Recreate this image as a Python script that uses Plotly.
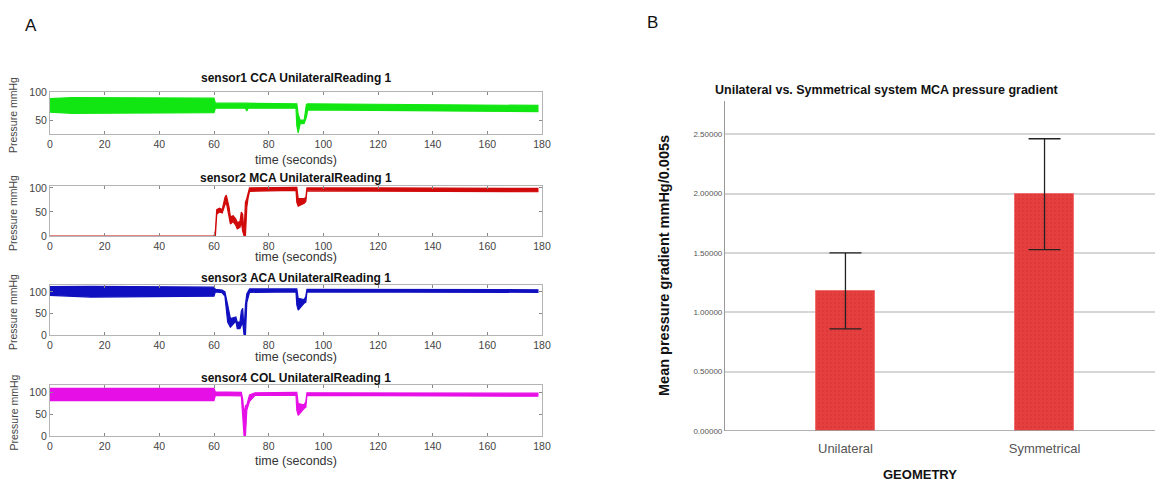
import plotly.graph_objects as go

W, H = 1163, 484
OFF = 8   # the page's default body margin shifts the figure by 8px right and down

# ---------------- Panel A data (signal envelopes) -------------
s1_t  = [0, 8, 60, 60.5, 71.5, 72, 72.5, 90, 90.3, 90.8, 91.5, 93, 93.8, 94.3, 120, 150, 178.5]
s1_hi = [88, 90, 89, 80, 80, 80, 80, 79, 79, 60, 50, 50, 78, 79, 78, 77, 76]
s1_lo = [64, 62, 63, 71, 71, 66, 71, 71, 40, 27, 43, 44, 55, 68, 67, 66, 65]

s2_t  = [0, 60, 60.5, 61, 62, 63, 64, 64.5, 65.5, 66, 67, 68, 68.5, 69.5, 70, 70.5, 71, 71.5, 72, 72.5, 73, 90, 90.3, 90.8, 93, 93.6, 94, 120, 178.5]
s2_hi = [0, 0, 10, 55, 58, 55, 80, 85, 60, 40, 42, 35, 28, 30, 50, 45, 5, 70, 78, 92, 100, 101, 101, 78, 78, 80, 100, 100, 99]
s2_lo = [0, 0, 0, 45, 50, 48, 65, 70, 40, 25, 30, 22, 15, 18, 30, 10, 0, 0, 60, 80, 93, 95, 70, 62, 68, 72, 94, 94, 92]

s3_t  = [0, 15, 60, 60.5, 63, 64, 65, 66, 67, 68, 68.5, 69.5, 70, 70.5, 71, 71.5, 72, 73, 90, 90.3, 90.8, 93, 93.6, 94, 178.5]
s3_hi = [112, 113, 111, 106, 104, 100, 70, 38, 40, 42, 30, 30, 55, 62, 10, 70, 95, 107, 107, 107, 85, 82, 90, 106, 105]
s3_lo = [92, 88, 90, 100, 98, 90, 30, 18, 25, 32, 15, 15, 22, 30, 0, 0, 75, 99, 100, 70, 58, 74, 76, 100, 99]

s4_t  = [0, 60, 60.5, 70, 70.5, 71, 71.5, 72, 73, 75, 90, 90.3, 90.8, 93, 93.6, 94, 178.5]
s4_hi = [110, 110, 102, 101, 85, 50, 70, 72, 95, 100, 101, 101, 75, 72, 80, 100, 99]
s4_lo = [82, 82, 94, 93, 60, 0, 0, 60, 80, 94, 94, 60, 48, 64, 66, 94, 92]

sensor_titles = ["sensor1 CCA UnilateralReading 1", "sensor2 MCA UnilateralReading 1",
                 "sensor3 ACA UnilateralReading 1", "sensor4 COL UnilateralReading 1"]
sensor_colors = ["#12e612", "#d00a0a", "#1010c0", "#e610e6"]
time_ticks = [0, 20, 40, 60, 80, 100, 120, 140, 160, 180]

# ---------------- Panel B data ----------------
geometry = ["Unilateral", "Symmetrical"]
mean_grad = [1.18, 1.995]
err_grad = [0.32, 0.467]
b_ticks = [0, 0.5, 1.0, 1.5, 2.0, 2.5]

# ---------------- layout helpers (window pixel -> paper fraction) ----------------
def px(x):
    return (x - OFF) / W

def py(y):
    return 1 - (y - OFF) / H

def note(x, y, text, size, color="#111", angle=0, xanchor="center", family="Liberation Sans, Arial"):
    return dict(x=px(x), y=py(y), xref="paper", yref="paper", xanchor=xanchor, yanchor="middle",
                text=text, textangle=angle, showarrow=False,
                font=dict(family=family, size=size, color=color))

fig = go.Figure()

series = [(s1_t, s1_hi, s1_lo), (s2_t, s2_hi, s2_lo), (s3_t, s3_hi, s3_lo), (s4_t, s4_hi, s4_lo)]
boxes = [(92, 134), (186, 236), (285, 335), (385, 436)]
yranges = [[25, 100], [0, 104], [0, 116], [0, 118]]
yticks = [[50, 100], [0, 50, 100], [0, 50, 100], [0, 50, 100]]
title_y = [78, 178, 278, 378]
xlab_y = [160, 257, 357, 461]

x_left, x_right = 50, 542
axis_gray = "#b4b4b4"
tick_font = dict(family="Liberation Sans, Arial", size=10.5, color="#444444")

annotations = []
for i, ((t, hi, lo), col) in enumerate(zip(series, sensor_colors)):
    n = i + 1
    xa = "x" if n == 1 else f"x{n}"
    ya = "y" if n == 1 else f"y{n}"
    fig.add_trace(go.Scatter(
        x=list(t) + list(t)[::-1], y=list(hi) + list(lo)[::-1],
        fill="toself", fillcolor=col, mode="lines",
        line=dict(color=col, width=1.2), xaxis=xa, yaxis=ya,
        showlegend=False, hoverinfo="skip"))
    top, bot = boxes[i]
    fig.update_layout(**{
        ("xaxis" if n == 1 else f"xaxis{n}"): dict(
            domain=[px(x_left), px(x_right)], anchor=ya, range=[0, 180],
            tickvals=time_ticks, ticks="inside", ticklen=3, tickcolor="#888",
            showline=True, linecolor=axis_gray, linewidth=1, mirror="ticks",
            showgrid=False, zeroline=False, tickfont=tick_font, automargin=False),
        ("yaxis" if n == 1 else f"yaxis{n}"): dict(
            domain=[py(bot), py(top)], anchor=xa, range=yranges[i],
            tickvals=yticks[i], ticks="inside", ticklen=3, tickcolor="#888",
            showline=True, linecolor=axis_gray, linewidth=1, mirror="ticks",
            showgrid=False, zeroline=False, tickfont=tick_font, automargin=False),
    })
    cx = (x_left + x_right) / 2
    annotations.append(note(cx, title_y[i], f"<b>{sensor_titles[i]}</b>", 12))
    annotations.append(note(cx, xlab_y[i], "time (seconds)", 12.5, "#333"))
    annotations.append(note(13, (top + bot) / 2 + 2, "Pressure mmHg", 10.5, "#444", angle=-90))

# ---------------- Panel B ----------------
b_left, b_right = 725, 1160
fig.add_trace(go.Bar(
    x=geometry, y=mean_grad, width=0.297,
    marker=dict(color="#e53f3f", line=dict(color="#f07070", width=1),
                pattern=dict(shape=".", fgcolor="#d23030", size=4, solidity=0.25)),
    error_y=dict(type="data", array=err_grad, color="#222", thickness=1.3, width=16),
    xaxis="x5", yaxis="y5", showlegend=False))

fig.update_layout(
    xaxis5=dict(domain=[px(b_left), px(b_right)], anchor="y5", range=[-0.605, 1.58],
                showline=False, ticks="", showgrid=False, zeroline=False, automargin=False,
                ticklabelstandoff=8,
                tickfont=dict(family="Liberation Sans, Arial", size=13, color="#555")),
    yaxis5=dict(domain=[py(431), py(101)], anchor="x5", range=[0, 2.78],
                tickvals=b_ticks, tickformat=".5f", ticks="", automargin=False,
                showline=True, linecolor="#999", linewidth=1.2,
                showgrid=True, gridcolor="#d6d6d6", gridwidth=1.5, zeroline=False,
                tickfont=dict(family="Liberation Sans, Arial", size=8, color="#555")),
)
fig.add_shape(type="line", xref="paper", yref="y5", x0=px(b_left), x1=px(b_right), y0=0, y1=0,
              line=dict(color="#999", width=1.5))

annotations += [
    note(713, 90, "<b>Unilateral vs. Symmetrical system MCA pressure gradient</b>", 12.5, xanchor="left"),
    note(664, 266, "<b>Mean pressure gradient mmHg/0.005s</b>", 14.5, angle=-90),
    note(920, 474, "<b>GEOMETRY</b>", 13),
    note(31, 25, "A", 17, family="Liberation Sans Narrow, Liberation Sans, Arial"),
    note(652, 23, "B", 17, family="Liberation Sans Narrow, Liberation Sans, Arial"),
]

fig.update_layout(width=W, height=H, margin=dict(l=0, r=0, t=0, b=0, autoexpand=False),
                  paper_bgcolor="white", plot_bgcolor="white",
                  annotations=annotations, bargap=0, showlegend=False)

fig.write_html("out.html")
